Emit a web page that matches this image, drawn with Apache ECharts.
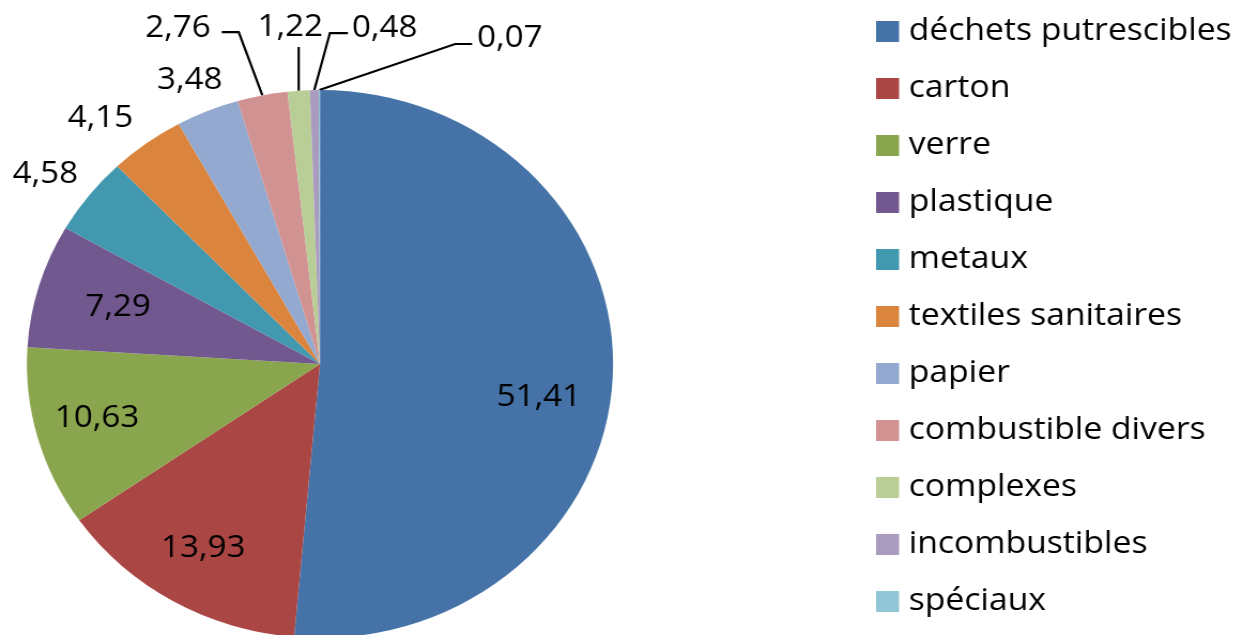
<!DOCTYPE html>
<html><head><meta charset="utf-8">
<script src="https://cdn.jsdelivr.net/npm/echarts@6/dist/echarts.min.js"></script>
<style>
html,body{margin:0;padding:0;background:#fff;overflow:hidden}
#wrap{width:1243px;height:635px;overflow:hidden;position:relative}
#chart{width:1162px;height:635px;transform:scaleX(1.06971);transform-origin:0 0}
</style>
</head><body>
<div id="wrap"><div id="chart"></div></div>
<script>
// ---- data ----
const categories = ['déchets putrescibles','carton','verre','plastique','metaux','textiles sanitaires','papier','combustible divers','complexes','incombustibles','spéciaux'];
const values = [51.41, 13.93, 10.63, 7.29, 4.58, 4.15, 3.48, 2.76, 1.22, 0.48, 0.07];

// ---- style / layout ----
const colors = ['#4572A7','#AA4643','#89A54E','#71588F','#4198AF','#DB843D','#93A9CF','#D19392','#B9CD96','#A99BBD','#92C5D6'];
const S = 1243/1162;
const CX = 320/S, CY = 364, R = 274;
const FONT = "'Open Sans', 'Noto Sans', sans-serif";
// inside label placement: fraction of radius, extra angle (deg)
const inside = {0:{f:0.756,d:6.6},1:{f:0.781,d:0.5},2:{f:0.786,d:1.1},3:{f:0.72,d:0.2}};
// outside label placement relative to slice edge anchor
const outside = {
  4:{lx:-40.8, ly:-21.3, align:'center'},
  5:{lx:-43.0, ly:-25.2, align:'center'},
  6:{lx:-16.7, ly:-30.5, align:'center'},
  7:{lx:-48.2, ly:-67.0, align:'right', line:[[-22.1,-63.3],[-38.0,-63.3]]},
  8:{lx:-7.9,  ly:-63.5, align:'center', line:[[0,-43.7],[0,-43.7]]},
  9:{lx:35.2,  ly:-62.0, align:'left', line:[[14.6,-57],[31.4,-57]]},
  10:{lx:147.4,ly:-52.0, align:'left', line:[[126.9,-46],[142.8,-46]]}
};

const total = values.reduce((a,b)=>a+b,0);
function midAngle(i){ // clockwise from top, radians
  let c = 0; for (let k=0;k<i;k++) c += values[k];
  return (c + values[i]/2)/total*2*Math.PI;
}

const data = categories.map((n,i)=>({
  name:n, value:values[i],
  label:{position: inside[i] ? 'inside' : 'outside'},
  labelLine:{show: !!(outside[i] && outside[i].line)}
}));

const chart = echarts.init(document.getElementById('chart'));
chart.setOption({
  animation:false,
  color: colors,
  legend:{
    orient:'vertical', left:819, top:15.5, padding:0,
    icon:'rect', itemWidth:21.5, itemHeight:21, itemGap:25.0,
    selectedMode:false,
    textStyle:{fontFamily:FONT, fontSize:31.5, color:'#000', padding:[0,0,0,4]},
    data: categories
  },
  series:[{
    type:'pie',
    center:[CX, CY], radius:R,
    startAngle:90, clockwise:true,
    avoidLabelOverlap:false,
    itemStyle:{borderWidth:0},
    label:{show:true, fontFamily:FONT, fontSize:31, color:'#000',
      formatter:p=>p.value.toFixed(2).replace('.',',')},
    labelLine:{lineStyle:{color:'#000', width:2.2}, length:10, length2:10},
    emphasis:{disabled:true},
    labelLayout: function(p){
      const i = p.dataIndex;
      const th = midAngle(i);
      if (inside[i]) {
        const a = th + inside[i].d*Math.PI/180;
        return {x: CX + inside[i].f*R*Math.sin(a), y: CY - inside[i].f*R*Math.cos(a), align:'center', verticalAlign:'middle'};
      }
      const ax = CX + R*Math.sin(th), ay = CY - R*Math.cos(th);
      const o = outside[i];
      const res = {x: ax + o.lx, y: ay + o.ly, align:o.align, verticalAlign:'middle'};
      if (o.line) res.labelLinePoints = [[ax,ay],[ax+o.line[0][0], ay+o.line[0][1]],[ax+o.line[1][0], ay+o.line[1][1]]];
      return res;
    },
    data: data
  }]
});
</script>
</body></html>
